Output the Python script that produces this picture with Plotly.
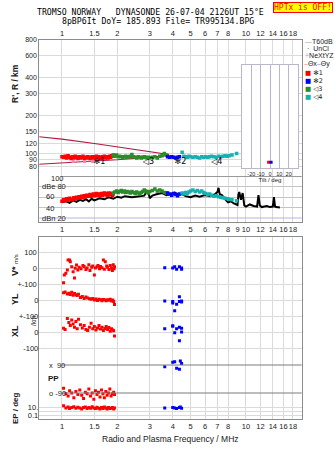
import plotly.graph_objects as go
import math

W, H = 335, 451

# ---------------- data ----------------
freq_ticks = [1, 1.5, 2, 3, 4, 5, 6, 7, 8, 10, 12, 14, 16, 18]
freq_ticks_db = [1, 1.5, 2, 3, 4, 5, 6, 7, 8, 9, 10, 12, 14, 16, 18]
height_ticks = [80, 90, 100, 120, 150, 200, 300, 400, 600, 800]
tilt_ticks = [-20, -10, 0, 10, 20]

# virtual heights (R', km) of the echo traces
f_tr1 = [1.00, 1.02, 1.04, 1.06, 1.08, 1.10, 1.12, 1.14, 1.16, 1.18, 1.20, 1.22, 1.24, 1.26, 1.28, 1.30,
         1.32, 1.34, 1.36, 1.38, 1.40, 1.42, 1.44, 1.46, 1.48, 1.50, 1.52, 1.54, 1.56, 1.58, 1.60, 1.62,
         1.64, 1.66, 1.68, 1.70, 1.72, 1.74, 1.76, 1.78, 1.80, 1.82, 1.84, 1.86, 1.88, 1.90]
h_tr1 = [95, 94, 96, 93, 97, 94, 92, 95, 93, 96, 94, 92, 95, 93, 94, 96, 92, 94, 93, 95, 94, 92, 93, 95,
         94, 93, 95, 96, 94, 95, 93, 94, 92, 95, 94, 96, 93, 95, 94, 93, 95, 96, 94, 97, 96, 98]
f_tr2 = [3.75, 3.85, 3.95, 4.05, 4.15, 4.25, 4.35]
h_tr2 = [95, 94, 95, 94, 93, 94, 95]
f_tr3 = [1.90, 1.94, 1.98, 2.02, 2.06, 2.10, 2.14, 2.18, 2.22, 2.26, 2.30, 2.35, 2.40, 2.45, 2.50, 2.55,
         2.60, 2.65, 2.70, 2.75, 2.80, 2.85, 2.90, 2.95, 3.00, 3.10, 3.20, 3.30, 3.40, 3.50, 3.60, 3.70]
h_tr3 = [97, 96, 98, 95, 96, 95, 94, 95, 96, 94, 95, 96, 99, 95, 94, 93, 95, 94, 93, 94, 95, 94, 93, 94,
         93, 94, 95, 93, 96, 97, 101, 98]
f_tr4 = [4.50, 4.60, 4.70, 4.80, 4.90, 5.00, 5.15, 5.30, 5.45, 5.60, 5.75, 5.90, 6.05, 6.20, 6.35, 6.50,
         6.70, 6.90, 7.10, 7.30, 7.50, 7.70, 7.90, 8.10, 8.40, 8.90]
h_tr4 = [103, 96, 95, 94, 96, 95, 94, 95, 94, 93, 95, 94, 95, 94, 95, 96, 95, 94, 96, 95, 96, 97, 96, 97,
         98, 101]
f_nxyz = [1.15, 1.33, 1.47]
h_nxyz = [87, 87, 87]
label_f = [1.60, 2.95, 4.40, 6.95]
label_h = [86, 86, 86, 86]
label_txt = ["✻1", "◁3", "✻2", "◁4"]

# true-height profile (maroon loop)
f_prof = [0.75, 1.0, 1.5, 2.0, 2.5, 3.0, 3.5, 3.8, 3.8, 3.5, 3.0, 2.5, 2.0, 1.5, 1.0, 0.75]
h_prof = [137, 131, 121, 114, 109, 105, 101, 99, 97, 96, 94, 92, 90, 88, 85, 83]

# tilt inset
tilt_x = [-1.5, 1.2]
tilt_h = [86, 86]

# amplitudes (dB)
f_noise = [1.00, 1.05, 1.10, 1.15, 1.20, 1.25, 1.30, 1.35, 1.40, 1.45, 1.50, 1.60, 1.70, 1.80, 1.90, 2.00,
           2.10, 2.20, 2.40, 2.60, 2.80, 2.90, 2.95, 3.00, 3.10, 3.30, 3.50, 3.70, 3.90, 4.10, 4.30, 4.50,
           4.70, 5.00, 5.30, 5.60, 6.00, 6.40, 6.80, 7.00, 7.10, 7.20, 7.40, 7.60, 7.80, 8.00, 8.30, 8.60,
           8.80, 9.00, 9.10, 9.20, 9.40, 9.60, 9.80, 10.0, 10.5, 11.0, 11.5, 11.7, 11.9, 12.2, 12.6, 13.0,
           13.5, 14.0, 14.2, 14.4, 14.6, 15.0, 15.3]
db_noise = [50, 52, 49, 54, 51, 55, 53, 56, 52, 57, 54, 58, 56, 60, 57, 61, 59, 62, 60, 61, 63, 72, 70,
            58, 63, 66, 68, 64, 67, 69, 65, 66, 62, 60, 63, 61, 64, 62, 66, 70, 78, 66, 64, 58, 54, 50,
            52, 48, 47, 45, 65, 70, 55, 68, 44, 42, 46, 43, 42, 64, 44, 41, 42, 43, 41, 42, 60, 42, 41,
            40, 40]
db_tr1 = [52, 55, 53, 57, 54, 58, 56, 55, 59, 57, 60, 58, 61, 59, 62, 60, 63, 61, 64, 62, 63, 65, 62, 64,
          66, 63, 65, 67, 64, 66, 63, 65, 67, 64, 66, 68, 65, 67, 64, 66, 68, 65, 67, 66, 64, 66]
db_tr2 = [68, 66, 64, 67, 65, 63, 66]
db_tr3 = [68, 70, 72, 69, 71, 73, 70, 72, 69, 71, 70, 68, 71, 69, 67, 70, 68, 66, 69, 71, 74, 72, 70, 68,
          71, 73, 76, 72, 74, 72, 69, 68]
db_tr4 = [68, 66, 69, 67, 70, 72, 74, 71, 73, 70, 72, 69, 67, 65, 66, 64, 62, 63, 61, 60, 59, 58, 57, 56,
          55, 53]

# lower panel: V*, YL, XL, PP, EP
f_v1 = [1.02, 1.03, 1.05, 1.07, 1.08, 1.10, 1.11, 1.13, 1.15, 1.17, 1.18, 1.20, 1.22, 1.24, 1.27, 1.30,
        1.32, 1.35, 1.37, 1.40, 1.42, 1.45, 1.47, 1.50, 1.52, 1.55, 1.57, 1.60, 1.62, 1.65, 1.68, 1.70,
        1.72, 1.75, 1.77, 1.80, 1.83, 1.86, 1.88, 1.90, 1.92, 1.93]
v1 = [-92, -44, -33, -12, 50, 50, 39, 8, -23, -62, -2, 19, -12, 5, -5, 15, 10, -10, 0, 20, -15, 5, 12, -44,
      0, 8, 15, -5, 10, 2, 50, -8, 39, 12, 5, -10, 15, 0, -15, 20, -5, 8]
f_l1 = [1.02, 1.04, 1.07, 1.09, 1.11, 1.13, 1.15, 1.17, 1.19, 1.21, 1.23, 1.26, 1.29, 1.32, 1.35, 1.38,
        1.41, 1.44, 1.47, 1.50, 1.53, 1.56, 1.59, 1.62, 1.65, 1.68, 1.71, 1.74, 1.77, 1.80, 1.83, 1.86,
        1.89, 1.91, 1.93]
yl1 = [46, 50, 38, 42, 35, 48, 30, 40, 33, 28, 36, 15, 22, 10, 18, 12, 8, 5, 10, 0, 6, -3, 4, 2, -5, 3, 0,
       -4, 2, -2, 5, -6, 0, -10, -28]
xl1 = [23, 15, 85, 60, 40, 75, 50, 30, 65, 20, 80, 45, 25, 40, 15, 10, 30, 55, 20, 35, 12, 25, 40, 18, 30,
       10, 22, 35, 15, 28, 5, 20, 12, 8, -25]
f_p1 = [1.02, 1.05, 1.08, 1.10, 1.13, 1.16, 1.19, 1.22, 1.25, 1.28, 1.31, 1.34, 1.37, 1.40, 1.43, 1.46,
        1.49, 1.52, 1.55, 1.58, 1.61, 1.64, 1.67, 1.70, 1.73, 1.76, 1.79, 1.82, 1.85, 1.88, 1.91, 1.93]
pp1 = [-60, -95, -110, -75, -90, -120, -80, -100, -70, -105, -125, -85, -95, -65, -110, -90, -130, -75,
       -100, -85, -115, -70, -95, -120, -80, -105, -90, -65, -110, -95, -85, -100]
ep1 = [20, 6, 10, 4, 8, 12, 5, 9, 6, 3, 7, 10, 4, 8, 5, 12, 6, 4, 9, 5, 3, 7, 4, 10, 6, 3, 8, 4, 5, 7, 3, 6]

f_v2 = [3.62, 4.00, 4.10, 4.20, 4.35, 4.47, 4.47]
v2 = [2, 0, 8, -8, 8, 0, -8]
f_l2 = [3.62, 4.00, 4.00, 4.10, 4.20, 4.35, 4.35, 4.47, 4.47]
yl2 = [-6, -10, -19, -67, -27, 21, -10, -6, -13]
xl2 = [21, 38, 38, -4, 21, 29, -54, 23, 0]
f_p2 = [3.62, 4.00, 4.10, 4.20, 4.35, 4.40, 4.47]
pp2 = [79, 107, 111, 69, 63, 116, 99]
ep2 = [5.6, 8, 6, 4, 7, 10, 5]

# ---------------- helpers (layout positions in px) ----------------
def px(x):
    return x / W

def py(y):
    return 1 - y / H

RED, BLUE, GREEN, TEAL = "#ff0000", "#0000ff", "#2a8c2a", "#18b0b0"
MAROON = "#b01a40"
GRID = "#dadada"
FRAME = "#8c8c8c"
FONT = "Liberation Sans"
TXT = "#1a1a1a"

XDOM = [px(39.3), px(301.7)]
XR = [math.log10(0.753), math.log10(20.1)]

fig = go.Figure()

def sq(color, size=3):
    return dict(symbol="square", size=size, color=color, line=dict(width=0))

# height panel
fig.add_trace(go.Scatter(x=f_prof, y=h_prof, mode="lines", line=dict(color=MAROON, width=1.1),
                         xaxis="x", yaxis="y", hoverinfo="skip"))
for f, h, c in [(f_tr1, h_tr1, RED), (f_tr3, h_tr3, GREEN), (f_tr2, h_tr2, BLUE), (f_tr4, h_tr4, TEAL)]:
    fig.add_trace(go.Scatter(x=f, y=h, mode="markers", marker=sq(c, 3.5), xaxis="x", yaxis="y"))
fig.add_trace(go.Scatter(x=f_nxyz, y=h_nxyz, mode="markers",
                         marker=dict(symbol="square", size=3, color="#ff80b0"), xaxis="x", yaxis="y"))
fig.add_trace(go.Scatter(x=label_f, y=label_h, mode="text", text=label_txt,
                         textfont=dict(family="DejaVu Sans", size=8, color="#000"), xaxis="x", yaxis="y"))

# dB panel
fig.add_trace(go.Scatter(x=f_noise, y=db_noise, mode="lines", line=dict(color="#000", width=2),
                         xaxis="x2", yaxis="y2"))
for f, d, c in [(f_tr1, db_tr1, RED), (f_tr3, db_tr3, GREEN), (f_tr2, db_tr2, BLUE), (f_tr4, db_tr4, TEAL)]:
    fig.add_trace(go.Scatter(x=f, y=d, mode="markers", marker=sq(c, 3.5), xaxis="x2", yaxis="y2"))

# tilt inset
fig.add_trace(go.Scatter(x=tilt_x[:1], y=tilt_h[:1], mode="markers", marker=sq(RED, 3), xaxis="x3", yaxis="y3"))
fig.add_trace(go.Scatter(x=tilt_x[1:], y=tilt_h[1:], mode="markers", marker=sq(BLUE, 3), xaxis="x3", yaxis="y3"))

# lower panel
fig.add_trace(go.Scatter(x=f_v1, y=v1, mode="markers", marker=sq(RED), xaxis="x4", yaxis="y4"))
fig.add_trace(go.Scatter(x=f_v2, y=v2, mode="markers", marker=sq(BLUE), xaxis="x4", yaxis="y4"))
fig.add_trace(go.Scatter(x=f_l1, y=yl1, mode="markers", marker=sq(RED), xaxis="x4", yaxis="y5"))
fig.add_trace(go.Scatter(x=f_l2, y=yl2, mode="markers", marker=sq(BLUE), xaxis="x4", yaxis="y5"))
fig.add_trace(go.Scatter(x=f_l1, y=xl1, mode="markers", marker=sq(RED), xaxis="x4", yaxis="y6"))
fig.add_trace(go.Scatter(x=f_l2, y=xl2, mode="markers", marker=sq(BLUE), xaxis="x4", yaxis="y6"))
fig.add_trace(go.Scatter(x=f_p1, y=pp1, mode="markers", marker=sq(RED), xaxis="x4", yaxis="y7"))
fig.add_trace(go.Scatter(x=f_p2, y=pp2, mode="markers", marker=sq(BLUE), xaxis="x4", yaxis="y7"))
fig.add_trace(go.Scatter(x=f_p1, y=ep1, mode="markers", marker=sq(RED), xaxis="x4", yaxis="y8"))
fig.add_trace(go.Scatter(x=f_p2, y=ep2, mode="markers", marker=sq(BLUE), xaxis="x4", yaxis="y8"))

tickfont = dict(family=FONT, size=7.5, color=TXT)

def xax(side, showlabels, ticks, anchor, mirror=False):
    return dict(type="log", range=XR, domain=XDOM, anchor=anchor, side=side, tickangle=0,
                tickvals=ticks, ticktext=[str(t) for t in ticks], showticklabels=showlabels,
                tickfont=tickfont, ticks="", showgrid=True, gridcolor=GRID, gridwidth=1,
                showline=True, linecolor=FRAME, linewidth=1, mirror=mirror, zeroline=False)

# lower panel pixel geometry: 0 of V* at 268, 100 units = 16 px
LP_TOP, LP_BOT = 237, 419
U = 100 / 16.0

def lin_range(zero_px, unit=U):
    return [-(LP_BOT - zero_px) * unit, (zero_px - LP_TOP) * unit]

PPU = 180 / 28.0
pp_range = [90 - (LP_BOT - 365) * PPU, 90 + (365 - LP_TOP) * PPU]
ep_range = [1 - (LP_BOT - 407) / 4.0, 1 + (407 - LP_TOP) / 4.0]

fig.update_layout(
    width=W, height=H, margin=dict(l=0, r=0, t=0, b=0),
    paper_bgcolor="white", plot_bgcolor="white", template="none", showlegend=False,
    xaxis=xax("top", True, freq_ticks, "y"),
    yaxis=dict(type="log", domain=[py(176), py(40)],
               range=[2.90309 - 136 / 126.2, 2.90309], tickvals=height_ticks,
               ticktext=[str(t) for t in height_ticks], tickfont=dict(family=FONT, size=7, color=TXT),
               ticks="", showgrid=True, gridcolor=GRID, showline=True, linecolor=FRAME, mirror=True,
               zeroline=False, anchor="x"),
    xaxis2=xax("bottom", True, freq_ticks_db, "y2"),
    yaxis2=dict(domain=[py(222), py(176)], range=[12.3, 100.8], tickvals=[40, 60, 80],
                showticklabels=False, ticks="", showgrid=True, gridcolor="#c4c4c4",
                showline=True, linecolor=FRAME, mirror=True, zeroline=False, anchor="x2"),
    xaxis3=dict(domain=[px(242), px(298)], range=[-30, 30], anchor="y3", tickvals=tilt_ticks, tickangle=0,
                ticktext=[str(t) for t in tilt_ticks], tickfont=dict(family=FONT, size=5.5, color=TXT),
                ticks="", showgrid=True, gridcolor="#b8b8cc", showline=True, linecolor="#b8b8cc",
                mirror=True, zeroline=False,
                title=dict(text="Tilt / deg", font=dict(family=FONT, size=6, color=TXT), standoff=0)),
    yaxis3=dict(type="log", domain=[py(168), py(65)], range=[2.90309 - 128 / 126.2, 2.90309 - 25 / 126.2],
                anchor="x3", showticklabels=False, ticks="", showgrid=False, showline=True,
                linecolor="#b8b8cc", mirror=True, zeroline=False),
    xaxis4=xax("bottom", True, freq_ticks, "y4", mirror=True),
    yaxis4=dict(domain=[py(LP_BOT), py(LP_TOP)], range=lin_range(268), tickvals=[100, 0, -100],
                ticktext=["100", "0", "+-100"], tickfont=tickfont, ticks="", showgrid=True,
                gridcolor=GRID, showline=True, linecolor=FRAME, mirror=True, zeroline=False, anchor="x4"),
    yaxis5=dict(overlaying="y4", anchor="x4", side="left", range=lin_range(300), tickvals=[0, -100],
                ticktext=["0", "+-100"], tickfont=tickfont, ticks="", showgrid=True, gridcolor=GRID,
                zeroline=False, showline=False),
    yaxis6=dict(overlaying="y4", anchor="x4", side="left", range=lin_range(332), tickvals=[0, -100],
                ticktext=["0", "-100"], tickfont=tickfont, ticks="", showgrid=True, gridcolor=GRID,
                zeroline=False, showline=False),
    yaxis7=dict(overlaying="y4", anchor="x4", side="left", range=pp_range, showticklabels=False,
                showgrid=False, zeroline=False, showline=False),
    yaxis8=dict(overlaying="y4", anchor="x4", side="left", type="log", range=ep_range,
                tickvals=[10, 1, 0.1], ticktext=["10.", "", "0.1"], tickfont=tickfont, ticks="",
                showgrid=True, gridcolor=GRID, zeroline=False, showline=False),
)

shapes = [
    # dB panel reference lines
    dict(type="line", xref="paper", yref="y2", x0=px(62), x1=XDOM[1], y0=100, y1=100,
         line=dict(color="#909090", width=1)),
    dict(type="line", xref="paper", yref="y2", x0=XDOM[0], x1=XDOM[1], y0=20, y1=20,
         line=dict(color="#b4b4e0", width=1)),
    # polarisation reference lines
    dict(type="line", xref="paper", yref="y7", x0=px(62), x1=XDOM[1], y0=90, y1=90,
         line=dict(color="#7a7a7a", width=1)),
    dict(type="line", xref="paper", yref="y7", x0=px(62), x1=XDOM[1], y0=-90, y1=-90,
         line=dict(color="#7a7a7a", width=1)),
]
fig.update_layout(shapes=shapes)

ann = []

def A(x, y, text, size=8, xanchor="center", family=FONT, color=TXT, angle=0, **kw):
    ann.append(dict(x=px(x), y=py(y), xref="paper", yref="paper", text=text, showarrow=False,
                    xanchor=xanchor, yanchor="middle", textangle=angle,
                    font=dict(family=family, size=size, color=color), **kw))

MONO = "DejaVu Sans Mono"
A(150, 11.5, "TROMSO NORWAY   DYNASONDE 26-07-04 2126UT 15°E", size=8.2, family=MONO, color="#000")
A(157.5, 21.2, "8pBP6It DoY= 185.893 File= TR995134.BPG", size=8.2, family=MONO, color="#000")
A(302.5, 7.5, "HPTx is OFF!", size=8, family=MONO, color="#ff0000", bgcolor="#ffff00",
  bordercolor="#ff0000", borderwidth=1, borderpad=0)

# legend
A(303, 41, "<span style='color:#a0a0a0'>—</span>T60dB", size=7, xanchor="left")
A(305, 48, "·  UnCl", size=7, xanchor="left")
A(303, 56, "<span style='color:#ff80b0'>+</span>NeXtYZ", size=7, xanchor="left")
A(302, 64, "<span style='color:#f08080'>–</span>Θx<span style='color:#8080ff'>–</span>Θy", size=7,
  xanchor="left")
for yy, col, lab in [(73, RED, "✻1"), (81, BLUE, "✻2"), (89, GREEN, "◁3"), (97, TEAL, "◁4")]:
    A(303, yy, "<span style='color:%s'>■</span> %s" % (col, lab), size=6.5, xanchor="left",
      family="DejaVu Sans")

# axis titles
A(15, 84, "<b>R', R / km</b>", size=8.5, angle=-90)
A(15, 265, "<b>V*</b> <span style='font-size:6px'>m/s</span>", size=9, angle=-90)
A(15, 299, "<b>YL</b>", size=9, angle=-90)
A(15, 331, "<b>XL</b>", size=9, angle=-90)
A(33, 321, "/km", size=6.5, angle=-90)
A(15, 408, "<b>EP / deg</b>", size=8, angle=-90)
A(46, 378, "<b>PP</b>", size=8, xanchor="left")
A(170, 439, "Radio and Plasma Frequency / MHz", size=8.5)

# dB panel labels
A(57, 178, "100", size=7.5)
A(39.5, 187, "dBe 80", size=7.5, xanchor="left")
A(50, 197, "60", size=7.5)
A(50, 208, "40", size=7.5)
A(39.5, 218, "dBn 20", size=7.5, xanchor="left")
# polarisation labels
A(47, 365, "x  90", size=7.5, xanchor="left")
A(47, 393, "o -90", size=7.5, xanchor="left")

fig.update_layout(annotations=ann)
fig.write_html("out.html")
